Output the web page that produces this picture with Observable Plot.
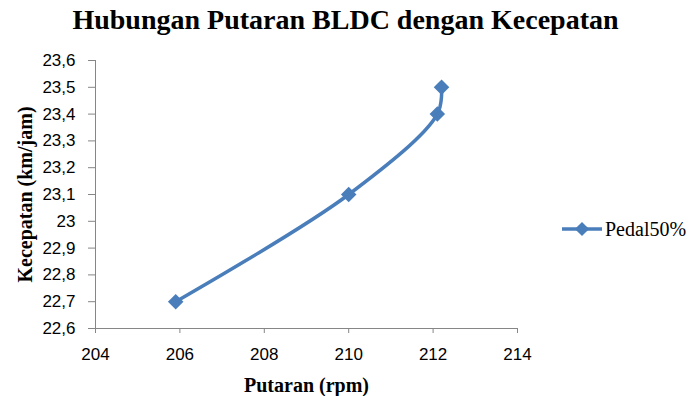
<!DOCTYPE html>
<html><head><meta charset="utf-8">
<script src="https://cdn.jsdelivr.net/npm/d3@7"></script>
<script src="https://cdn.jsdelivr.net/npm/@observablehq/plot@0.6"></script>
<style>
body{margin:0;background:#fff;}
#wrap{position:relative;width:691px;height:396px;overflow:hidden;}
#title{height:40px;line-height:40px;text-align:center;font-family:"Liberation Serif",serif;font-weight:bold;font-size:28px;color:#000;white-space:nowrap;}
#legend{position:absolute;left:562px;top:217px;height:24px;display:flex;align-items:center;font-family:"Liberation Serif",serif;font-size:20px;color:#000;}
#legend svg{display:block;}
</style>
</head><body>
<div id="wrap">
<div id="title">Hubungan Putaran BLDC dengan Kecepatan</div>
<div id="chart"></div>
<div id="legend"></div>
</div>
<script>
const seriesName = "Pedal50%";
const putaran = [205.9, 210, 212.1, 212.2];
const kecepatan = [22.7, 23.1, 23.4, 23.5];
const xTicks = [204, 206, 208, 210, 212, 214];
const yTicks = [22.6, 22.7, 22.8, 22.9, 23.0, 23.1, 23.2, 23.3, 23.4, 23.5, 23.6];
const xLabel = "Putaran (rpm)";
const yLabel = "Kecepatan (km/jam)";
const color = "#4A7EBB";

const data = putaran.map((x, i) => ({x, y: kecepatan[i]}));
const fmtY = d => String(+d.toFixed(1)).replace(".", ",");
const axisGray = "#868686";

const chart = Plot.plot({
  width: 691,
  height: 356,
  marginLeft: 95,
  marginRight: 174,
  marginTop: 20,
  marginBottom: 68,
  style: {fontFamily: "Liberation Sans, Arial, sans-serif", fontSize: "17px", background: "#fff"},
  x: {domain: [204, 214]},
  y: {domain: [22.6, 23.6]},
  marks: [
    Plot.axisX({ticks: xTicks, tickSize: 5, tickPadding: 14, stroke: axisGray, fill: "#000", label: null, tickFormat: d => String(d)}),
    Plot.axisY({ticks: yTicks, tickSize: 7, tickPadding: 13, stroke: axisGray, fill: "#000", label: null, tickFormat: fmtY}),
    Plot.ruleX([204], {stroke: axisGray}),
    Plot.ruleY([22.6], {stroke: axisGray}),
    Plot.line(data, {x: "x", y: "y", curve: "catmull-rom", stroke: color, strokeWidth: 3.5}),
    Plot.dot(data, {x: "x", y: "y", symbol: "diamond2", r: 7, fill: color, stroke: "none"}),
    Plot.text([xLabel], {frameAnchor: "bottom", textAnchor: "middle", lineAnchor: "middle", dy: 57, text: d => d, fontFamily: "Liberation Serif", fontWeight: "bold", fontSize: 20, fill: "#000"}),
    Plot.text([yLabel], {frameAnchor: "left", textAnchor: "middle", lineAnchor: "middle", dx: -70, rotate: -90, text: d => d, fontFamily: "Liberation Serif", fontWeight: "bold", fontSize: 20, fill: "#000"})
  ]
});
document.getElementById("chart").appendChild(chart);

const legend = document.getElementById("legend");
legend.innerHTML = `<svg width="43" height="24"><line x1="0" x2="40" y1="12" y2="12" stroke="${color}" stroke-width="3.5"/><rect x="15" y="7" width="10" height="10" fill="${color}" transform="rotate(45 20 12)"/></svg><span>${seriesName}</span>`;
</script>
</body></html>
